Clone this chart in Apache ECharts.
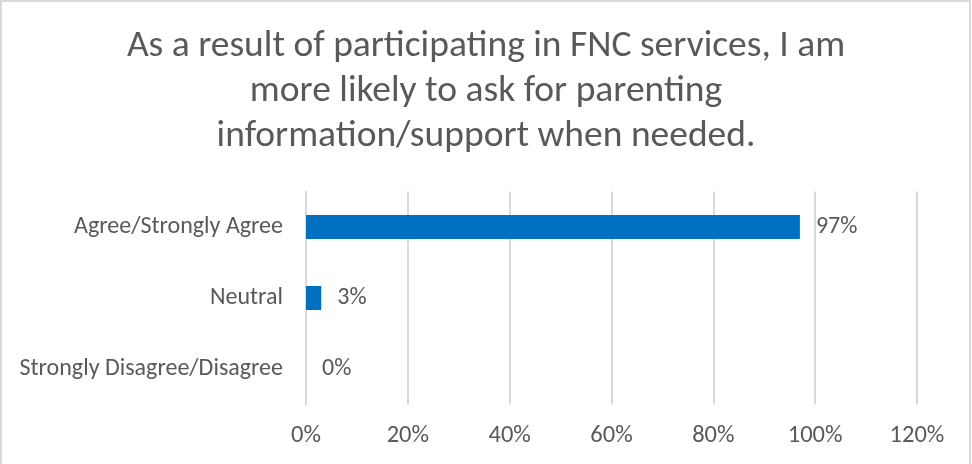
<!DOCTYPE html>
<html>
<head>
<meta charset="utf-8">
<style>
  html, body { margin: 0; padding: 0; background: #fff; }
  #chart { width: 972px; height: 464px; }
</style>
<script src="https://cdn.jsdelivr.net/npm/echarts@6/dist/echarts.min.js"></script>
</head>
<body>
<div id="chart"></div>
<script>
const titleLines = [
  "As a result of participating in FNC services, I am",
  "more likely to ask for parenting",
  "information/support when needed."
];
const categories = ["Agree/Strongly Agree", "Neutral", "Strongly Disagree/Disagree"];
const values = [97, 3, 0];
const axisMin = 0;
const axisMax = 120;
const axisStep = 20;

const fontFamily = "Carlito, 'Liberation Sans Narrow', 'Liberation Sans', sans-serif";
const textColor = "#595959";

const chart = echarts.init(document.getElementById("chart"));

const option = {
  backgroundColor: "#fff",
  textStyle: { fontFamily: fontFamily },
  title: {
    text: titleLines.join("\n"),
    left: "center",
    top: 19,
    textStyle: {
      fontFamily: fontFamily,
      fontSize: 37.5,
      fontWeight: "normal",
      color: textColor,
      lineHeight: 45
    }
  },
  graphic: [
    {
      type: "rect",
      silent: true,
      shape: { x: 1, y: 1, width: 969, height: 480 },
      style: { fill: "none", stroke: "#d9d9d9", lineWidth: 2 }
    }
  ],
  grid: {
    left: 306,
    right: 55,
    top: 191.5,
    bottom: 59.5,
    containLabel: false,
    outerBoundsMode: "none"
  },
  xAxis: {
    type: "value",
    min: axisMin,
    max: axisMax,
    interval: axisStep,
    axisLine: { show: false },
    axisTick: { show: false },
    splitLine: { lineStyle: { color: "#d9d9d9", width: 2 } },
    axisLabel: {
      formatter: "{value}%",
      color: textColor,
      fontSize: 24.5,
      margin: 19,
      fontFamily: fontFamily
    }
  },
  yAxis: {
    type: "category",
    data: categories,
    inverse: true,
    axisLine: { show: true, lineStyle: { color: "#d9d9d9", width: 2 } },
    axisTick: { show: false },
    axisLabel: {
      color: textColor,
      fontSize: 24,
      margin: 23,
      fontFamily: fontFamily
    }
  },
  series: [
    {
      type: "bar",
      data: values,
      barWidth: 24,
      itemStyle: { color: "#0070C0" },
      label: {
        show: true,
        position: "right",
        distance: 16,
        formatter: "{c}%",
        color: textColor,
        fontSize: 24,
        fontFamily: fontFamily
      }
    }
  ]
};

chart.setOption(option);
window.addEventListener("resize", () => chart.resize());
</script>
</body>
</html>
